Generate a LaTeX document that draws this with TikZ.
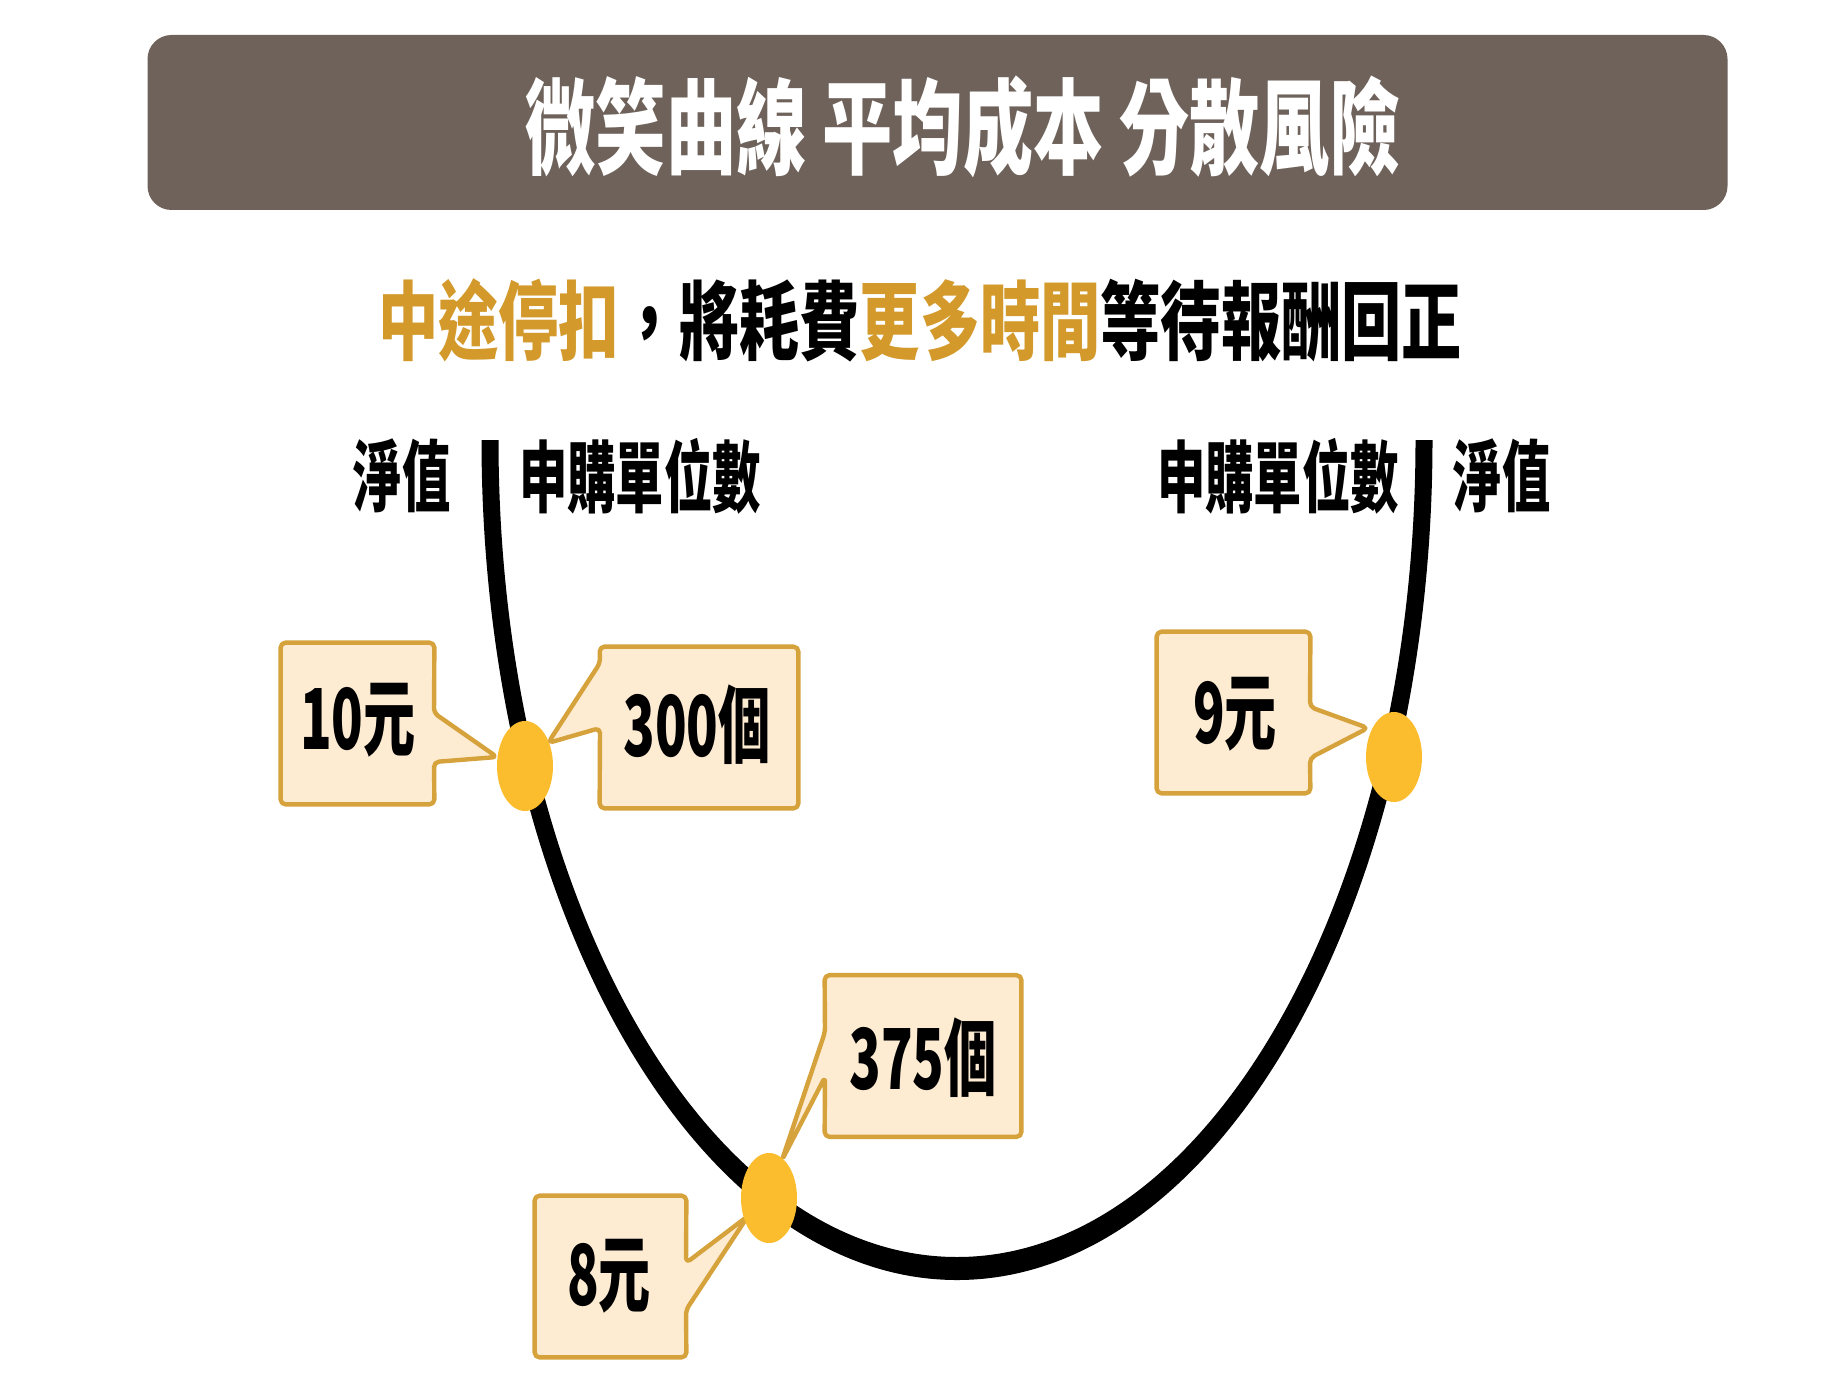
\documentclass[tikz,border=0pt]{standalone}
\usepackage{fontspec}
\usepackage{graphicx}
\setmainfont{Noto Sans CJK TC}
\usetikzlibrary{shapes.geometric}
\definecolor{bannerc}{HTML}{6E625B}
\definecolor{goldtxt}{HTML}{D39A2B}
\definecolor{boxfill}{HTML}{FDEBD2}
\definecolor{boxline}{HTML}{D6A23C}
\definecolor{dotc}{HTML}{FBBC2D}
\newcommand{\hsq}[2]{\scalebox{#1}[1]{#2}}
\begin{document}
\begin{tikzpicture}[x=0.5pt,y=-0.5pt,
  banner/.style={fill=bannerc,rounded corners=12pt,minimum width=790pt,minimum height=87.5pt,inner sep=0},
  titletxt/.style={inner sep=0,text=white,font=\bfseries\fontsize{52}{52}\selectfont},
  subtxt/.style={inner sep=0,font=\bfseries\fontsize{43}{43}\selectfont},
  labtxt/.style={inner sep=0,font=\bfseries\fontsize{39}{39}\selectfont},
  boxarea/.style={inner sep=0,minimum height=80.5pt},
  boxtxt/.style={inner sep=0,font=\bfseries\fontsize{42}{42}\selectfont},
  callout/.style={fill=boxfill,draw=boxline,line width=2.2pt,rounded corners=2.5pt,line join=round},
  smile/.style={fill=black},
  dotnode/.style={ellipse,fill=dotc,inner sep=0,minimum width=28pt,minimum height=45pt}
]
\fill[white] (0,0) rectangle (1840,1380);
\useasboundingbox (0,0) rectangle (1840,1380);
% banner
\node[banner] (banner) at (937.5,122.5) {};
\node[titletxt] (title) at (963,127) {\hsq{0.675}{微笑曲線 平均成本 分散風險}};
% subtitle
\node[subtxt] (sub) at (920,320) {\hsq{0.70}{\textcolor{goldtxt}{中途停扣}，將耗費\textcolor{goldtxt}{更多時間}等待報酬回正}};
% labels
\node[labtxt] (lnav) at (402,476) {\hsq{0.62}{淨值}};
\node[labtxt] (lunit) at (640,476) {\hsq{0.62}{申購單位數}};
\node[labtxt] (runit) at (1278,476) {\hsq{0.62}{申購單位數}};
\node[labtxt] (rnav) at (1502,476) {\hsq{0.62}{淨值}};
% curve (thin at the sides, thick at the bottom, like the stretched original)
\coordinate (ltop) at (481.5,440);
\coordinate (rtopin) at (1415.5,440);
\fill[smile] (ltop) arc[start angle=180, end angle=0, x radius=475.5, y radius=840]
  -- (rtopin) arc[start angle=0, end angle=180, x radius=458.5, y radius=817] -- cycle;
% dots positions
\coordinate (d1c) at (525,766);
\coordinate (d2c) at (769,1198);
\coordinate (d3c) at (1394,757);
% tips
\coordinate (tip10) at (497,757);
\coordinate (tip300) at (548,743);
\coordinate (tip9) at (1368,728);
\coordinate (tip375) at (782,1160);
\coordinate (tip8) at (748,1216);
% boxes
\node[boxarea,minimum width=76.5pt] (b10) at (357.5,723.5) {};
\draw[callout] (b10.north west) -- (b10.north east) -- (434,713) -- (tip10) -- (434,762) -- (b10.south east) -- (b10.south west) -- cycle;
\node[boxtxt] (t10) at (358,720) {\hsq{0.62}{10元}};
\node[boxarea,minimum width=99pt] (b300) at (699,727.5) {};
\draw[callout] (b300.north west) -- (b300.north east) -- (b300.south east) -- (b300.south west) -- (600,728) -- (tip300) -- (600,663) -- cycle;
\node[boxtxt] (t300) at (697,725) {\hsq{0.62}{300個}};
\node[boxarea,minimum width=76.5pt] (b9) at (1233.5,712.5) {};
\draw[callout] (b9.north west) -- (b9.north east) -- (1310,707) -- (tip9) -- (1310,758) -- (b9.south east) -- (b9.south west) -- cycle;
\node[boxtxt] (t9) at (1235,714) {\hsq{0.62}{9元}};
\node[boxarea,minimum width=98pt] (b375) at (923,1056) {};
\draw[callout] (b375.north west) -- (b375.north east) -- (b375.south east) -- (b375.south west) -- (825,1077) -- (tip375) -- (825,1032) -- cycle;
\node[boxtxt] (t375) at (923,1058) {\hsq{0.62}{375個}};
\node[boxarea,minimum width=75.5pt] (b8) at (610.5,1276.5) {};
\draw[callout] (b8.north west) -- (b8.north east) -- (686,1263) -- (tip8) -- (686,1310) -- (b8.south east) -- (b8.south west) -- cycle;
\node[boxtxt] (t8) at (609,1276) {\hsq{0.62}{8元}};
% dots
\node[dotnode] (d1) at (d1c) {};
\node[dotnode] (d2) at (d2c) {};
\node[dotnode] (d3) at (d3c) {};
\end{tikzpicture}
\end{document}
